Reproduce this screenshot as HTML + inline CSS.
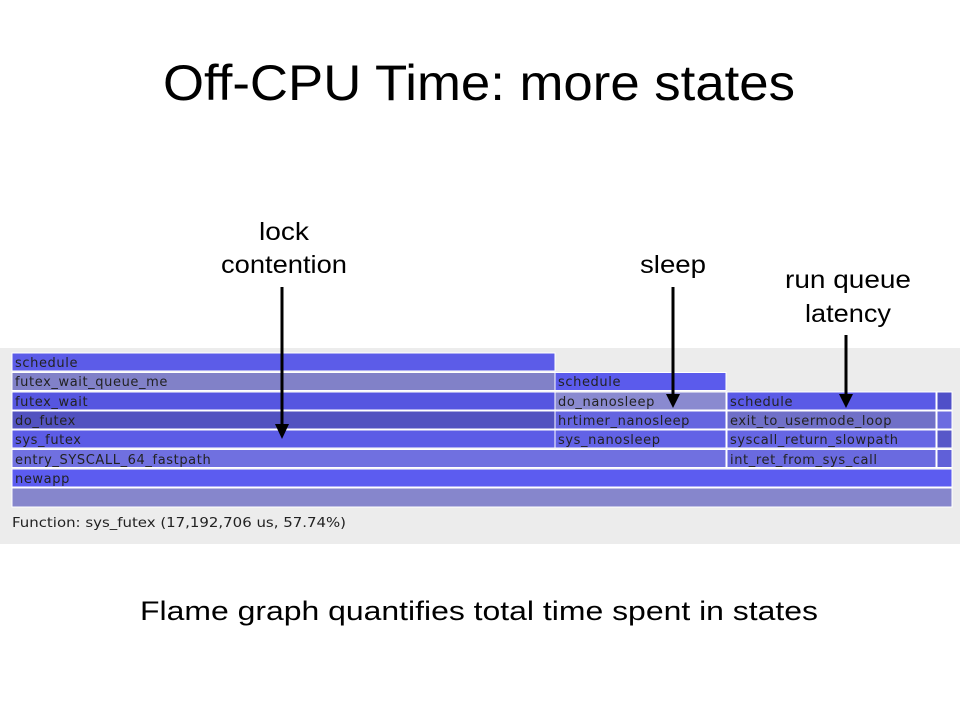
<!DOCTYPE html>
<html><head><meta charset="utf-8"><style>html,body{margin:0;padding:0;background:#fff;}svg{display:block}</style></head>
<body>
<svg width="960" height="720" xmlns="http://www.w3.org/2000/svg" font-family="Liberation Sans, DejaVu Sans, sans-serif">
<rect width="960" height="720" fill="#fff"/>
<text x="479" y="100" font-size="50" text-anchor="middle" textLength="632" lengthAdjust="spacingAndGlyphs" fill="#000">Off-CPU Time: more states</text>
<g font-size="25" text-anchor="middle" fill="#000">
<text x="284" y="240" textLength="50" lengthAdjust="spacingAndGlyphs">lock</text>
<text x="284" y="273" textLength="126" lengthAdjust="spacingAndGlyphs">contention</text>
<text x="673" y="273" textLength="66" lengthAdjust="spacingAndGlyphs">sleep</text>
<text x="848" y="288" textLength="126" lengthAdjust="spacingAndGlyphs">run queue</text>
<text x="848" y="322" textLength="86" lengthAdjust="spacingAndGlyphs">latency</text>
</g>
<rect x="0" y="348" width="960" height="196" fill="#ececec"/>
<g stroke="#fff" stroke-width="1">
<rect x="12" y="353" width="543" height="18" fill="#5c5ce8"/>
<rect x="12" y="372.5" width="543" height="18" fill="#8181c8"/>
<rect x="555" y="372.5" width="171" height="18" fill="#5b5bec"/>
<rect x="12" y="392" width="543" height="18" fill="#5656e0"/>
<rect x="555" y="392" width="171" height="18" fill="#8a8ad0"/>
<rect x="727" y="392" width="209" height="18" fill="#5a5ae6"/>
<rect x="937" y="392" width="15" height="18" fill="#5050c8"/>
<rect x="12" y="411" width="543" height="18" fill="#5252c0"/>
<rect x="555" y="411" width="171" height="18" fill="#6565e0"/>
<rect x="727" y="411" width="209" height="18" fill="#7070c8"/>
<rect x="937" y="411" width="15" height="18" fill="#6c6ce0"/>
<rect x="12" y="430" width="543" height="18" fill="#5c5ce6"/>
<rect x="555" y="430" width="171" height="18" fill="#6262e6"/>
<rect x="727" y="430" width="209" height="18" fill="#6666e4"/>
<rect x="937" y="430" width="15" height="18" fill="#5858c8"/>
<rect x="12" y="449.5" width="714" height="18" fill="#7070e0"/>
<rect x="727" y="449.5" width="209" height="18" fill="#6a6ae0"/>
<rect x="937" y="449.5" width="15" height="18" fill="#6060d8"/>
<rect x="12" y="469" width="940" height="18" fill="#5c5cf0"/>
<rect x="12" y="488" width="940" height="19" fill="#8686cc"/>
</g>
<g font-size="13" fill="#222" font-family="DejaVu Sans, Liberation Sans, sans-serif" letter-spacing="0.6">
<text x="15" y="367">schedule</text>
<text x="15" y="386">futex_wait_queue_me</text>
<text x="558" y="386">schedule</text>
<text x="15" y="406">futex_wait</text>
<text x="558" y="406">do_nanosleep</text>
<text x="730" y="406">schedule</text>
<text x="15" y="425">do_futex</text>
<text x="558" y="425">hrtimer_nanosleep</text>
<text x="730" y="425">exit_to_usermode_loop</text>
<text x="15" y="444">sys_futex</text>
<text x="558" y="444">sys_nanosleep</text>
<text x="730" y="444">syscall_return_slowpath</text>
<text x="15" y="464">entry_SYSCALL_64_fastpath</text>
<text x="730" y="464">int_ret_from_sys_call</text>
<text x="15" y="483">newapp</text>
<text x="12" y="527" textLength="334" lengthAdjust="spacingAndGlyphs" letter-spacing="0">Function: sys_futex (17,192,706 us, 57.74%)</text>
</g>
<g stroke="#000" stroke-width="3">
<line x1="282" y1="287" x2="282" y2="426"/>
<line x1="673" y1="287" x2="673" y2="396"/>
<line x1="846" y1="335" x2="846" y2="396"/>
</g>
<g fill="#000">
<polygon points="275,424 289,424 282,439"/>
<polygon points="666,394 680,394 673,408"/>
<polygon points="839,394 853,394 846,408"/>
</g>
<text x="479" y="620" font-size="27" text-anchor="middle" textLength="678" lengthAdjust="spacingAndGlyphs" fill="#000">Flame graph quantifies total time spent in states</text>
</svg>
</body></html>
